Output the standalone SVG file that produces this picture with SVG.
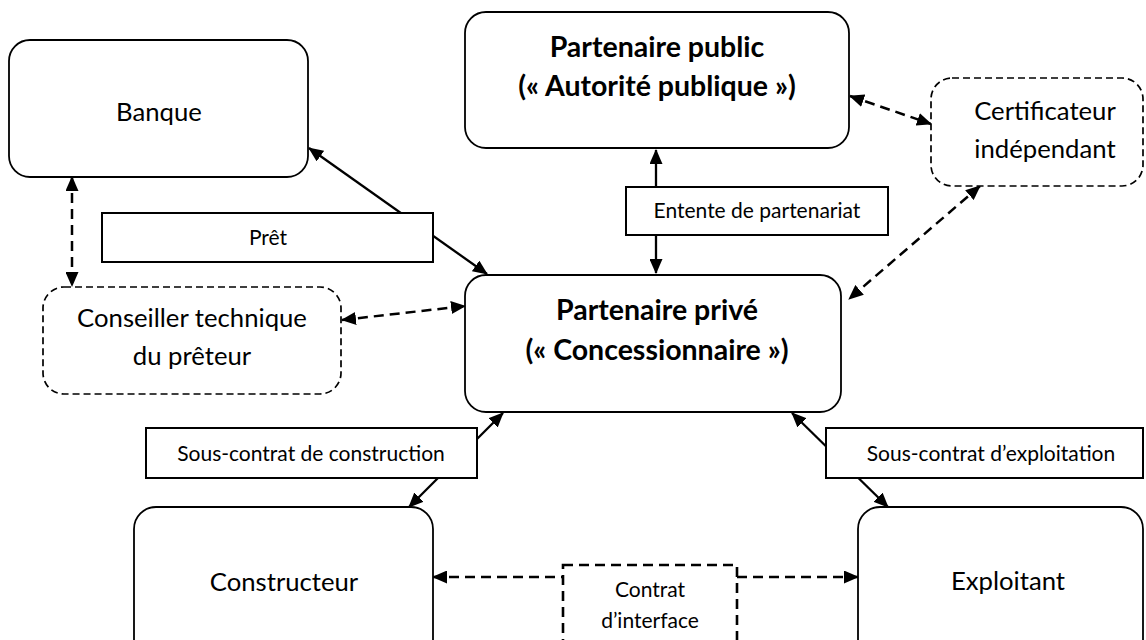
<svg xmlns="http://www.w3.org/2000/svg" width="1146" height="640" viewBox="0 0 1146 640">
<style>
.node{fill:#fff;stroke:#000;stroke-width:1.8}
.dnode{fill:#fff;stroke:#000;stroke-width:1.7;stroke-dasharray:7 4}
.lbl{fill:#fff;stroke:#000;stroke-width:2}
.dlbl{fill:#fff;stroke:#000;stroke-width:2.6;stroke-dasharray:10 6}
.t{font-family:Lato,"Liberation Sans",sans-serif;font-size:25.7px;fill:#000;text-anchor:middle}
.b{font-family:Lato,"Liberation Sans",sans-serif;font-size:28.5px;font-weight:bold;fill:#000;text-anchor:middle}
.s{font-family:Lato,"Liberation Sans",sans-serif;font-size:21px;fill:#000;text-anchor:middle}
.c{stroke:#000;stroke-width:2.3;fill:none;marker-start:url(#ah);marker-end:url(#ah)}
.d{stroke-dasharray:10 6;stroke-width:2.5}
</style>
<defs>
<marker id="ah" markerUnits="userSpaceOnUse" markerWidth="15" markerHeight="13" viewBox="0 0 15 13" refX="14" refY="6.5" orient="auto-start-reverse">
<path d="M0,0 L15,6.5 L0,13 z" fill="#000"/>
</marker>
</defs>
<rect width="1146" height="640" fill="#fff"/>
<g id="connectors">
<line class="c" x1="309" y1="148" x2="487" y2="274"/>
<line class="c" x1="656" y1="150" x2="656" y2="273"/>
<line class="c d" x1="850" y1="96" x2="931" y2="124"/>
<line class="c d" x1="980" y1="186" x2="849" y2="299"/>
<line class="c d" x1="72" y1="177" x2="72" y2="286"/>
<line class="c d" x1="342" y1="320" x2="465" y2="306"/>
<line class="c" x1="503" y1="413" x2="409" y2="507"/>
<line class="c" x1="792" y1="413" x2="888" y2="507"/>
<line class="c d" x1="433" y1="577" x2="858" y2="577"/>
</g>
<g id="banque">
<rect class="node" x="9" y="40" width="299" height="137" rx="21"/>
<text class="t" x="159" y="121">Banque</text>
</g>
<g id="partenaire-public">
<rect class="node" x="465" y="12" width="384" height="136" rx="21"/>
<text class="b" x="657" y="57">Partenaire public</text>
<text class="b" x="657" y="96">(« Autorité publique »)</text>
</g>
<g id="certificateur">
<rect class="dnode" x="931" y="78" width="212" height="108" rx="21"/>
<text class="t" x="1045" y="120">Certificateur</text>
<text class="t" x="1045" y="158">indépendant</text>
</g>
<g id="conseiller">
<rect class="dnode" x="43" y="287" width="298" height="107" rx="21"/>
<text class="t" x="192" y="327">Conseiller technique</text>
<text class="t" x="192" y="365">du prêteur</text>
</g>
<g id="partenaire-prive">
<rect class="node" x="465" y="275" width="376" height="137" rx="21"/>
<text class="b" x="657" y="320">Partenaire privé</text>
<text class="b" x="657" y="360">(« Concessionnaire »)</text>
</g>
<g id="constructeur">
<rect class="node" x="134" y="507" width="299" height="160" rx="22"/>
<text class="t" x="284" y="591">Constructeur</text>
</g>
<g id="exploitant">
<rect class="node" x="858" y="507" width="285" height="160" rx="22"/>
<text class="t" x="1008" y="590">Exploitant</text>
</g>
<g id="pret">
<rect class="lbl" x="102" y="213" width="331" height="49"/>
<text class="s" x="268" y="245">Prêt</text>
</g>
<g id="entente">
<rect class="lbl" x="626" y="187" width="262" height="48"/>
<text class="s" x="757" y="218">Entente de partenariat</text>
</g>
<g id="sous-contrat-construction">
<rect class="lbl" x="146" y="428" width="331" height="50"/>
<text class="s" x="311" y="461">Sous-contrat de construction</text>
</g>
<g id="sous-contrat-exploitation">
<rect class="lbl" x="826" y="428" width="317" height="50"/>
<text class="s" x="991" y="461">Sous-contrat d’exploitation</text>
</g>
<g id="contrat-interface">
<rect class="dlbl" x="563" y="565" width="174" height="100"/>
<text class="s" x="650" y="597">Contrat</text>
<text class="s" x="650" y="628">d’interface</text>
</g>
</svg>
